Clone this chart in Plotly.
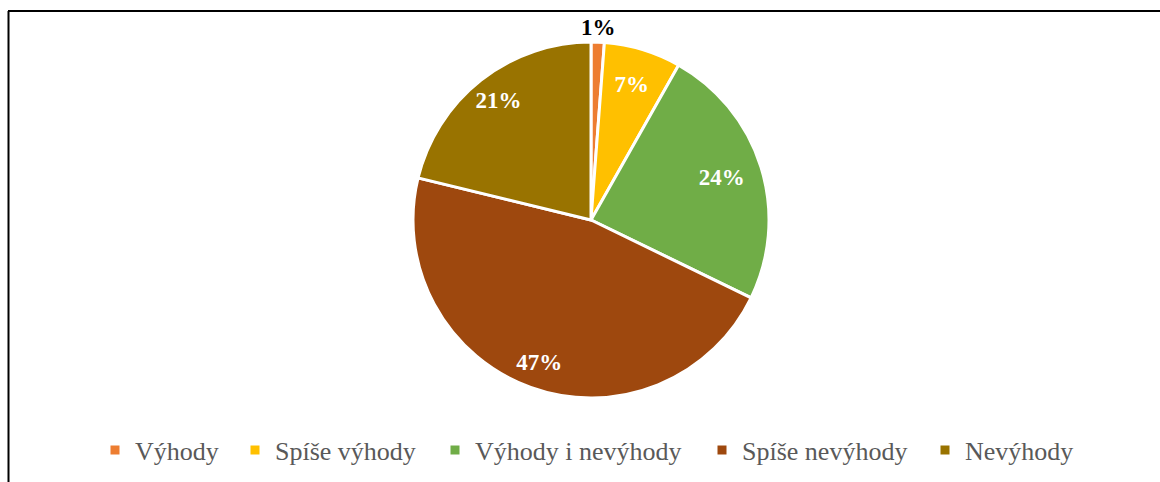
import plotly.graph_objects as go

categories = ["Výhody", "Spíše výhody", "Výhody i nevýhody", "Spíše nevýhody", "Nevýhody"]
values = [1.2, 7.0, 24.0, 46.6, 21.2]
colors = ["#ED7D31", "#FFC000", "#70AD47", "#9E480E", "#997300"]
label_colors = ["#000000", "#FFFFFF", "#FFFFFF", "#FFFFFF", "#FFFFFF"]
label_radius = [1.07, 0.785, 0.77, 0.86, 0.84]
legend_text_x = [135, 275, 475, 742, 965]

W, H = 1160, 482
cx, cy, r = 591, 220, 178
R_RANGE = 1.2

total = sum(values)
cum = 0.0
mid_angles, widths, pct_text = [], [], []
for v in values:
    mid_angles.append((cum + v / 2) / total * 360)
    widths.append(v / total * 360)
    cum += v
    pct_text.append(f"{round(v / total * 100)}%")

fig = go.Figure()
for i, cat in enumerate(categories):
    lname = "legend" if i == 0 else f"legend{i + 1}"
    fig.add_trace(go.Barpolar(
        r=[1.0],
        theta=[mid_angles[i]],
        width=[widths[i]],
        name=cat,
        marker=dict(color=colors[i], line=dict(color="white", width=3)),
        legend=lname,
        hovertemplate=f"{cat}: {pct_text[i]}<extra></extra>",
    ))

fig.add_trace(go.Scatterpolar(
    r=label_radius,
    theta=mid_angles,
    mode="text",
    text=pct_text,
    textposition="middle center",
    textfont=dict(family="Liberation Serif", size=23, color=label_colors, weight="bold"),
    cliponaxis=False,
    showlegend=False,
    hoverinfo="skip",
))

rr = r * R_RANGE
layout_legends = {}
for i, tx in enumerate(legend_text_x):
    lname = "legend" if i == 0 else f"legend{i + 1}"
    layout_legends[lname] = dict(
        orientation="h",
        x=(tx - 40) / W, xanchor="left",
        y=1 - 450 / H, yanchor="middle",
        font=dict(family="Liberation Serif", size=26, color="#595959"),
        itemwidth=30,
        bgcolor="rgba(0,0,0,0)",
        borderwidth=0,
    )

fig.update_layout(
    width=W, height=H,
    margin=dict(l=0, r=0, t=0, b=0),
    paper_bgcolor="white",
    plot_bgcolor="white",
    showlegend=True,
    polar=dict(
        domain=dict(x=[(cx - rr) / W, (cx + rr) / W], y=[1 - (cy + rr) / H, 1 - (cy - rr) / H]),
        bgcolor="rgba(0,0,0,0)",
        radialaxis=dict(range=[0, R_RANGE], visible=False),
        angularaxis=dict(rotation=90, direction="clockwise", visible=False),
    ),
    shapes=[
        dict(type="line", xref="paper", yref="paper", x0=8.5 / W, x1=8.5 / W, y0=0, y1=1 - 11 / H,
             line=dict(color="#000000", width=2)),
        dict(type="line", xref="paper", yref="paper", x0=8 / W, x1=1, y0=1 - 11 / H, y1=1 - 11 / H,
             line=dict(color="#000000", width=2)),
    ],
    **layout_legends,
)

fig.write_html("out.html", config={"displayModeBar": False},
               post_script="document.body.style.margin='0';")
